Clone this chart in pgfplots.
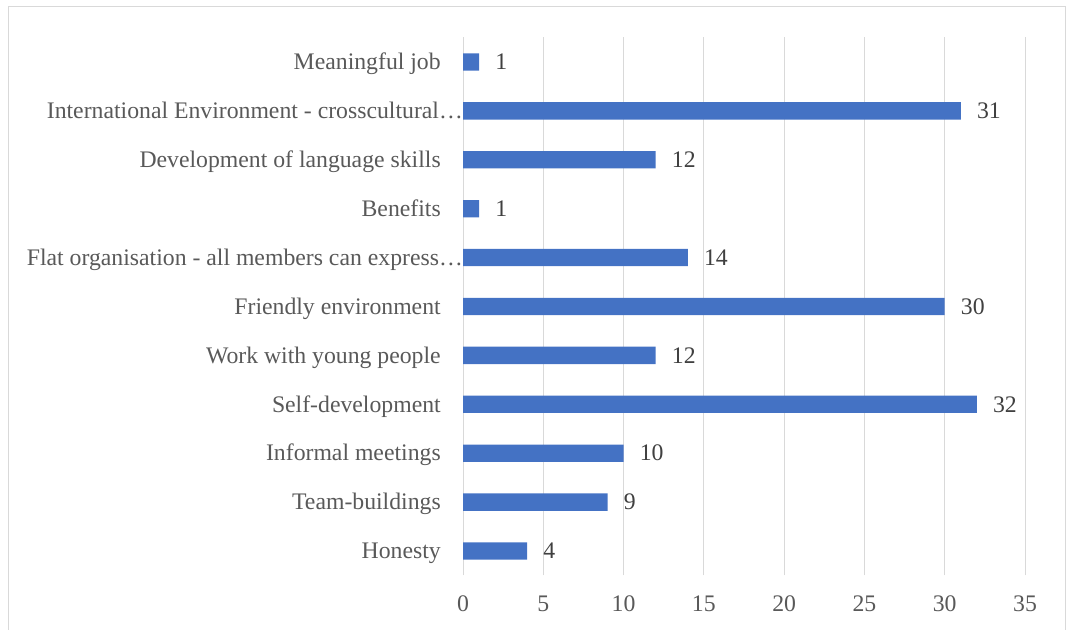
\documentclass[border=0pt]{standalone}
\usepackage{fontspec}
\setmainfont{Liberation Serif}
\usepackage{pgfplots}
\pgfplotsset{compat=1.18}
\definecolor{barblue}{HTML}{4472C4}
\definecolor{gridgray}{HTML}{D9D9D9}
\definecolor{labgray}{HTML}{595959}
\definecolor{valgray}{HTML}{404040}
\newcommand{\lf}{\fontsize{17.8pt}{21pt}\selectfont}
\begin{document}
\begin{tikzpicture}
\begin{axis}[
 at={(347.25pt,40.875pt)}, anchor=south west,
 scale only axis, width=421.5pt, height=403.5pt,
 xbar, bar width=13pt,
 xmin=0, xmax=35, ymin=-0.5, ymax=10.5,
 xtick={0,5,...,35}, ytick={0,...,10},
 yticklabels={Honesty, Team-buildings, Informal meetings, Self-development, Work with young people, {Friendly environment\ }, {Flat organisation - all members can express…\hspace*{-16.5pt}}, Benefits, Development of language skills, {International Environment - crosscultural…\hspace*{-16.5pt}}, Meaningful job},
 xmajorgrids, grid style={gridgray, line width=0.75pt},
 axis line style={draw=none},
 major tick length=0pt,
 /pgf/number format/assume math mode=true,
 tick label style={font=\lf, text=labgray, inner sep=0pt},
 yticklabel style={anchor=base east, xshift=-16.5pt, yshift=-5.8pt},
 xticklabel style={anchor=north, yshift=-15pt},
 nodes near coords,
 nodes near coords style={font=\lf, text=valgray, anchor=west, inner sep=0pt, xshift=12pt},
]
\addplot[fill=barblue, draw=none] coordinates {(4,0) (9,1) (10,2) (32,3) (12,4) (30,5) (14,6) (1,7) (12,8) (31,9) (1,10)};
\end{axis}
\draw[gridgray, line width=0.75pt] (6pt,-2pt) -- (6pt,467.25pt) -- (798.75pt,467.25pt) -- (798.75pt,-2pt);
\pgfresetboundingbox
\path[use as bounding box] (0,0) rectangle (799.5pt,472.5pt);
\end{tikzpicture}
\end{document}
